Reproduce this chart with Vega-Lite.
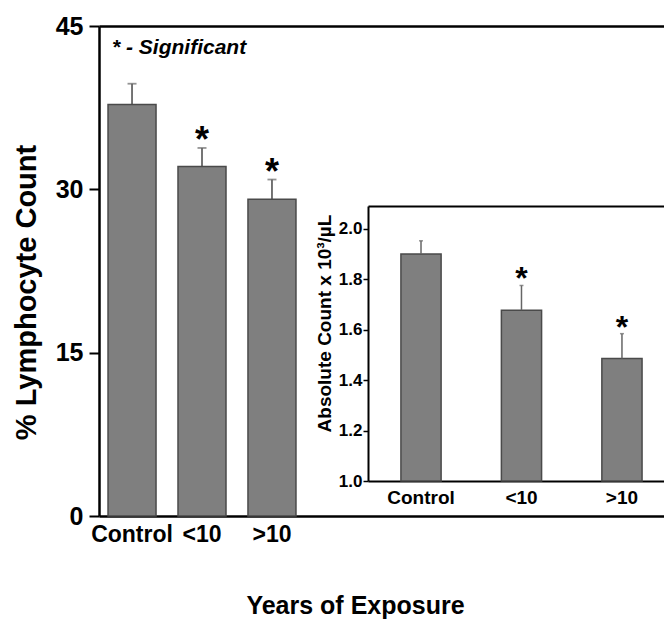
{
  "$schema": "https://vega.github.io/schema/vega-lite/v6.json",
  "width": 565,
  "height": 490,
  "autosize": {"type": "none"},
  "padding": {"left": 99, "top": 26, "right": 0, "bottom": 110},
  "background": "white",
  "config": {
    "view": {"stroke": null},
    "font": "Liberation Sans",
    "axis": {"domainColor": "black", "tickColor": "black", "labelColor": "black", "titleColor": "black", "labelFontWeight": "bold", "titleFontWeight": "bold", "grid": false}
  },
  "datasets": {
    "main": [
      {"group": "Control", "value": 37.8, "upper": 39.7, "sig": ""},
      {"group": "<10", "value": 32.1, "upper": 33.8, "sig": "*"},
      {"group": ">10", "value": 29.1, "upper": 30.9, "sig": "*"}
    ],
    "inset": [
      {"group": "Control", "value": 1.90, "upper": 1.952, "sig": ""},
      {"group": "<10", "value": 1.677, "upper": 1.775, "sig": "*"},
      {"group": ">10", "value": 1.486, "upper": 1.584, "sig": "*"}
    ],
    "note": [
      {"label": "* - Significant", "pos": 0.023, "level": 43}
    ]
  },
  "layer": [
    {
      "data": {"name": "note"},
      "mark": {"type": "text", "fontSize": 21, "fontWeight": "bold", "fontStyle": "italic", "align": "left", "baseline": "middle", "color": "black"},
      "encoding": {
        "x": {"field": "pos", "type": "quantitative", "scale": {"domain": [0, 1], "nice": false, "zero": true}, "axis": null},
        "y": {"field": "level", "type": "quantitative",
          "scale": {"domain": [0, 45], "nice": false},
          "axis": {"orient": "left", "values": [0, 45], "grid": true, "gridColor": "black", "gridWidth": 2.5, "gridOpacity": 1, "domain": false, "ticks": false, "labels": false, "title": null}},
        "text": {"field": "label"}
      }
    },
    {
      "data": {"name": "main"},
      "layer": [
        {
          "mark": {"type": "rule", "color": "#666666", "strokeWidth": 1.8},
          "encoding": {
            "x": {"field": "group", "type": "nominal", "sort": null,
              "scale": {"domain": ["Control", "<10", ">10"], "range": [0, 206], "paddingInner": 0.314, "paddingOuter": 0.129, "align": 0.5},
              "axis": {"orient": "bottom", "title": "Years of Exposure", "labelAngle": 0, "ticks": false, "domain": false, "labelFontSize": 23, "labelPadding": 7, "titleFontSize": 25, "titleX": 256, "titleY": 97, "titleBaseline": "alphabetic", "titleAnchor": "middle"}},
            "y": {"field": "value", "type": "quantitative",
              "scale": {"domain": [0, 45], "nice": false},
              "axis": {"orient": "left", "values": [0, 15, 30, 45], "title": "% Lymphocyte Count", "tickSize": 10, "tickWidth": 2, "domainWidth": 2.5, "labelFontSize": 25, "labelPadding": 6, "titleFontSize": 29, "titleY": 266, "titlePadding": 14}},
            "y2": {"field": "upper"}
          }
        },
        {
          "mark": {"type": "bar", "fill": "#7f7f7f", "stroke": "#4a4a4a", "strokeWidth": 1.5},
          "encoding": {
            "x": {"field": "group", "type": "nominal", "sort": null},
            "y": {"field": "value", "type": "quantitative"}
          }
        },
        {
          "mark": {"type": "tick", "color": "#666666", "size": 9, "thickness": 1.8},
          "encoding": {
            "x": {"field": "group", "type": "nominal", "sort": null},
            "y": {"field": "upper", "type": "quantitative"}
          }
        },
        {
          "mark": {"type": "text", "fontSize": 36, "fontWeight": "bold", "baseline": "alphabetic", "dy": 4.5, "color": "black"},
          "encoding": {
            "x": {"field": "group", "type": "nominal", "sort": null},
            "y": {"field": "upper", "type": "quantitative"},
            "text": {"field": "sig"}
          }
        }
      ]
    },
    {
      "data": {"name": "inset"},
      "layer": [
        {
          "mark": {"type": "bar", "fill": "#7f7f7f", "stroke": "#4a4a4a", "strokeWidth": 1.5},
          "encoding": {
            "x": {"field": "group", "type": "nominal", "sort": null,
              "scale": {"domain": ["Control", "<10", ">10"], "range": [269, 565], "paddingInner": 0.6, "paddingOuter": 0.273, "align": 0.6},
              "axis": {"orient": "bottom", "offset": -35, "title": null, "labelAngle": 0, "ticks": false, "domainWidth": 2, "labelFontSize": 19, "labelPadding": 7}},
            "y": {"field": "value", "type": "quantitative",
              "scale": {"domain": [1, 2.09], "range": [455, 180], "nice": false, "zero": false},
              "axis": {"orient": "left", "offset": -269, "values": [1, 1.2, 1.4, 1.6, 1.8, 2], "format": ".1f", "title": "Absolute Count x 10³/µL", "tickSize": 5, "tickWidth": 1.5, "domainWidth": 2, "labelFontSize": 17, "labelPadding": 1, "titleFontSize": 19, "titleY": 297, "titlePadding": 4}},
            "y2": {"datum": 1}
          }
        },
        {
          "mark": {"type": "rule", "color": "#666666", "strokeWidth": 1.5},
          "encoding": {
            "x": {"field": "group", "type": "nominal", "sort": null, "axis": {"orient": "top", "offset": -180, "labels": false, "ticks": false, "title": null, "domainWidth": 2}},
            "y": {"field": "value", "type": "quantitative", "title": "Absolute Count x 10³/µL"},
            "y2": {"field": "upper"}
          }
        },
        {
          "mark": {"type": "tick", "color": "#666666", "size": 4, "thickness": 1.5},
          "encoding": {
            "x": {"field": "group", "type": "nominal", "sort": null, "axis": null},
            "y": {"field": "upper", "type": "quantitative", "title": "Absolute Count x 10³/µL"}
          }
        },
        {
          "mark": {"type": "text", "fontSize": 32, "fontWeight": "bold", "baseline": "alphabetic", "dy": 4, "color": "black"},
          "encoding": {
            "x": {"field": "group", "type": "nominal", "sort": null, "axis": null},
            "y": {"field": "upper", "type": "quantitative", "title": "Absolute Count x 10³/µL"},
            "text": {"field": "sig"}
          }
        }
      ],
      "resolve": {"axis": {"x": "independent"}}
    }
  ],
  "resolve": {"scale": {"x": "independent", "y": "independent"}, "axis": {"x": "independent", "y": "independent"}}
}
